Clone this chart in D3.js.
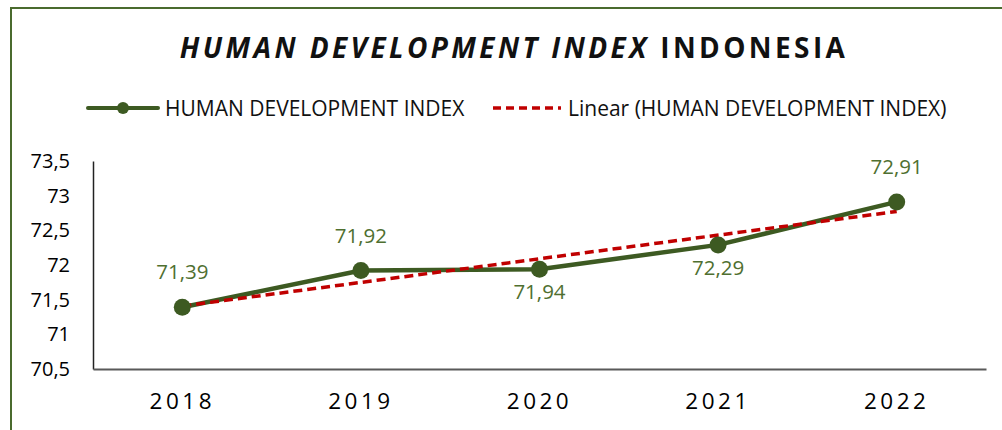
<!DOCTYPE html>
<html>
<head>
<meta charset="utf-8">
<script src="https://cdn.jsdelivr.net/npm/d3@7"></script>
<style>
  body { margin: 0; background: #fff; }
  svg { display: block; }
  .tick text { font-family: "Open Sans", sans-serif; fill: #000; }
</style>
</head>
<body>
<div id="chart"></div>
<script>
// data
const years = ['2018', '2019', '2020', '2021', '2022'];
const hdi = [71.39, 71.92, 71.94, 72.29, 72.91];
const labelPos = ['above', 'above', 'below', 'below', 'above'];
const yTicks = [70.5, 71, 71.5, 72, 72.5, 73, 73.5];

const W = 1002, H = 430;
const margin = {top: 161, right: 16, bottom: 61, left: 93};
const width = W - margin.left - margin.right;
const height = H - margin.top - margin.bottom;

const green = '#3d5a22';
const labelGreen = '#4f6f30';
const red = '#c00000';

const svg = d3.select('#chart').append('svg')
    .attr('width', W)
    .attr('height', H);

// outer chart border (clipped at right / bottom like the original)
svg.append('rect')
    .attr('x', 11).attr('y', 8)
    .attr('width', 1100).attr('height', 500)
    .attr('fill', 'none')
    .attr('stroke', '#4a6b2e')
    .attr('stroke-width', 2);

// title
const title = svg.append('text')
    .attr('x', 514).attr('y', 58)
    .attr('text-anchor', 'middle')
    .style('font-family', '"Open Sans", sans-serif')
    .style('font-size', '28px')
    .style('font-weight', 'bold')
    .style('letter-spacing', '3.4px')
    .attr('fill', '#111');
title.append('tspan').style('font-style', 'italic').text('HUMAN DEVELOPMENT INDEX');
title.append('tspan').text(' INDONESIA');

// legend
const legend = svg.append('g').style('font-family', '"Open Sans", sans-serif').style('font-size', '21px');
legend.append('line')
    .attr('x1', 88).attr('x2', 158).attr('y1', 108).attr('y2', 108)
    .attr('stroke', green).attr('stroke-width', 4).attr('stroke-linecap', 'round');
legend.append('circle').attr('cx', 123).attr('cy', 108).attr('r', 6).attr('fill', green);
legend.append('text').attr('x', 165).attr('y', 116).attr('fill', '#111').text('HUMAN DEVELOPMENT INDEX');
legend.append('line')
    .attr('x1', 493).attr('x2', 561).attr('y1', 108).attr('y2', 108)
    .attr('stroke', red).attr('stroke-width', 3.5).attr('stroke-dasharray', '8,5');
legend.append('text').attr('x', 568).attr('y', 116).attr('fill', '#111').text('Linear (HUMAN DEVELOPMENT INDEX)');

const g = svg.append('g').attr('transform', `translate(${margin.left},${margin.top})`);

const x = d3.scaleBand().domain(years).range([0, width]);
const y = d3.scaleLinear().domain([70.5, 73.5]).range([height, 0]);
const fmt = v => String(v).replace('.', ',');

// axes
const yAxis = g.append('g')
    .call(d3.axisLeft(y).tickValues(yTicks).tickSize(0).tickPadding(23).tickFormat(fmt));
yAxis.select('.domain').attr('stroke', '#222').attr('stroke-width', 1.5);
yAxis.selectAll('text').style('font-size', '20px');

const xAxis = g.append('g')
    .attr('transform', `translate(0,${height})`)
    .call(d3.axisBottom(x).tickSize(0).tickPadding(24));
xAxis.select('.domain').attr('stroke', '#595959').attr('stroke-width', 2);
xAxis.selectAll('text').style('font-size', '22.5px').style('letter-spacing', '3.5px');

const cx = d => x(d) + x.bandwidth() / 2;
const points = years.map((yr, i) => ({year: yr, value: hdi[i], pos: labelPos[i]}));

// series line
g.append('path')
    .datum(points)
    .attr('fill', 'none')
    .attr('stroke', green)
    .attr('stroke-width', 4.5)
    .attr('stroke-linejoin', 'round')
    .attr('d', d3.line().x(d => cx(d.year)).y(d => y(d.value)));

// linear trendline (least squares, as Excel does)
const xs = hdi.map((_, i) => i + 1);
const mx = d3.mean(xs), my = d3.mean(hdi);
const slope = d3.sum(xs, (v, i) => (v - mx) * (hdi[i] - my)) / d3.sum(xs, v => (v - mx) ** 2);
const intercept = my - slope * mx;
const trend = years.map((yr, i) => ({year: yr, value: intercept + slope * (i + 1)}));

g.append('path')
    .datum([trend[0], trend[trend.length - 1]])
    .attr('fill', 'none')
    .attr('stroke', red)
    .attr('stroke-width', 3.5)
    .attr('stroke-dasharray', '9,5')
    .attr('d', d3.line().x(d => cx(d.year)).y(d => y(d.value)));

// markers
g.selectAll('.dot')
    .data(points)
    .enter().append('circle')
    .attr('class', 'dot')
    .attr('cx', d => cx(d.year))
    .attr('cy', d => y(d.value))
    .attr('r', 8.5)
    .attr('fill', green);

// data labels
g.selectAll('.value-label')
    .data(points)
    .enter().append('text')
    .attr('class', 'value-label')
    .attr('x', d => cx(d.year))
    .attr('y', d => y(d.value) + (d.pos === 'above' ? -28 : 30))
    .attr('text-anchor', 'middle')
    .style('font-family', '"Open Sans", sans-serif')
    .style('font-size', '20.5px')
    .attr('fill', labelGreen)
    .text(d => fmt(d.value));
</script>
</body>
</html>
